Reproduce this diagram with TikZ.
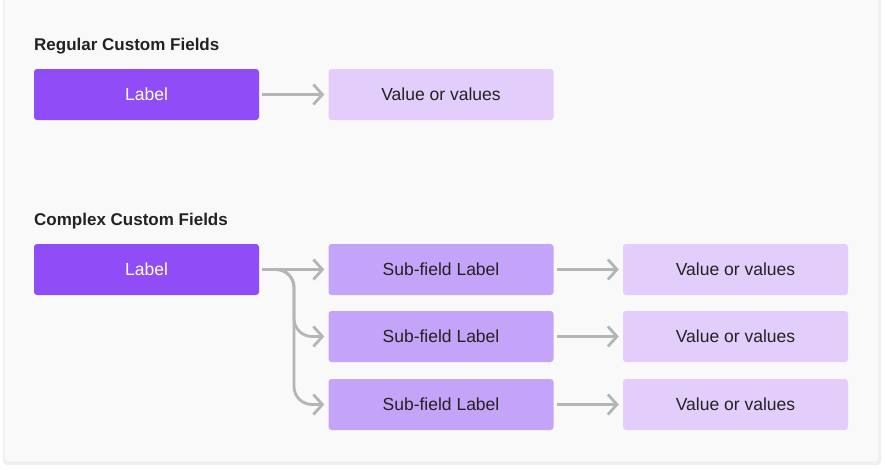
\documentclass[tikz,border=0pt]{standalone}
\usepackage{fontspec}
\setmainfont{Liberation Sans}
\usetikzlibrary{arrows.meta,calc}
\definecolor{dark}{HTML}{904CF6}
\definecolor{mid}{HTML}{C4A4F8}
\definecolor{light}{HTML}{E2CDFB}
\definecolor{arrg}{HTML}{B5B5B5}
\definecolor{card}{HTML}{F9F9F9}
\definecolor{txt}{HTML}{222222}
\begin{document}
\begin{tikzpicture}[x=1pt,y=-1pt,
  box/.style={rounded corners=3pt,minimum width=225pt,minimum height=51pt,inner sep=0pt,font=\fontsize{17.5}{20}\selectfont},
  darkbox/.style={box,fill=dark,text=white},
  midbox/.style={box,fill=mid,text=txt},
  lightbox/.style={box,fill=light,text=txt},
  title/.style={anchor=west,inner sep=0pt,font=\fontsize{17}{20}\selectfont\bfseries,text=txt},
  arr/.style={draw=arrg,line width=2.8pt,-{Straight Barb[length=9pt,width=20pt,line width=2.8pt]}}]
\useasboundingbox (0,0) rectangle (885,469);
\fill[white] (0,0) rectangle (885,469);
\fill[black!6,rounded corners=4pt] (3,-10) rectangle (881,465);
\fill[card,draw=black!8,line width=0.6pt,rounded corners=4pt] (4,-10) rectangle (879,462);
\node[title] (t1) at (34,46) {Regular Custom Fields};
\node[title] (t2) at (34,221) {Complex Custom Fields};
\node[darkbox] (l1) at (146.5,94.5) {Label};
\node[lightbox] (v1) at (441,94.5) {Value or values};
\node[darkbox] (l2) at (146.5,269.5) {Label};
\node[midbox] (s1) at (441,269.5) {Sub-field Label};
\node[midbox] (s2) at (441,336.5) {Sub-field Label};
\node[midbox] (s3) at (441,404.5) {Sub-field Label};
\node[lightbox] (w1) at (735.5,269.5) {Value or values};
\node[lightbox] (w2) at (735.5,336.5) {Value or values};
\node[lightbox] (w3) at (735.5,404.5) {Value or values};
\draw[arr] ($(l1.east)+(3,0)$) -- ($(v1.west)+(-4,0)$);
\draw[arr] ($(l2.east)+(3,0)$) -- ($(s1.west)+(-4,0)$);
\coordinate (bx) at (294,0);
\draw[arr,rounded corners=18pt] ($(l2.east)+(3,0)$) -| (bx |- s2.west) -- ($(s2.west)+(-4,0)$);
\draw[arr,rounded corners=18pt] ($(l2.east)+(3,0)$) -| (bx |- s3.west) -- ($(s3.west)+(-4,0)$);
\draw[arr] ($(s1.east)+(3,0)$) -- ($(w1.west)+(-4,0)$);
\draw[arr] ($(s2.east)+(3,0)$) -- ($(w2.west)+(-4,0)$);
\draw[arr] ($(s3.east)+(3,0)$) -- ($(w3.west)+(-4,0)$);
\end{tikzpicture}
\end{document}
